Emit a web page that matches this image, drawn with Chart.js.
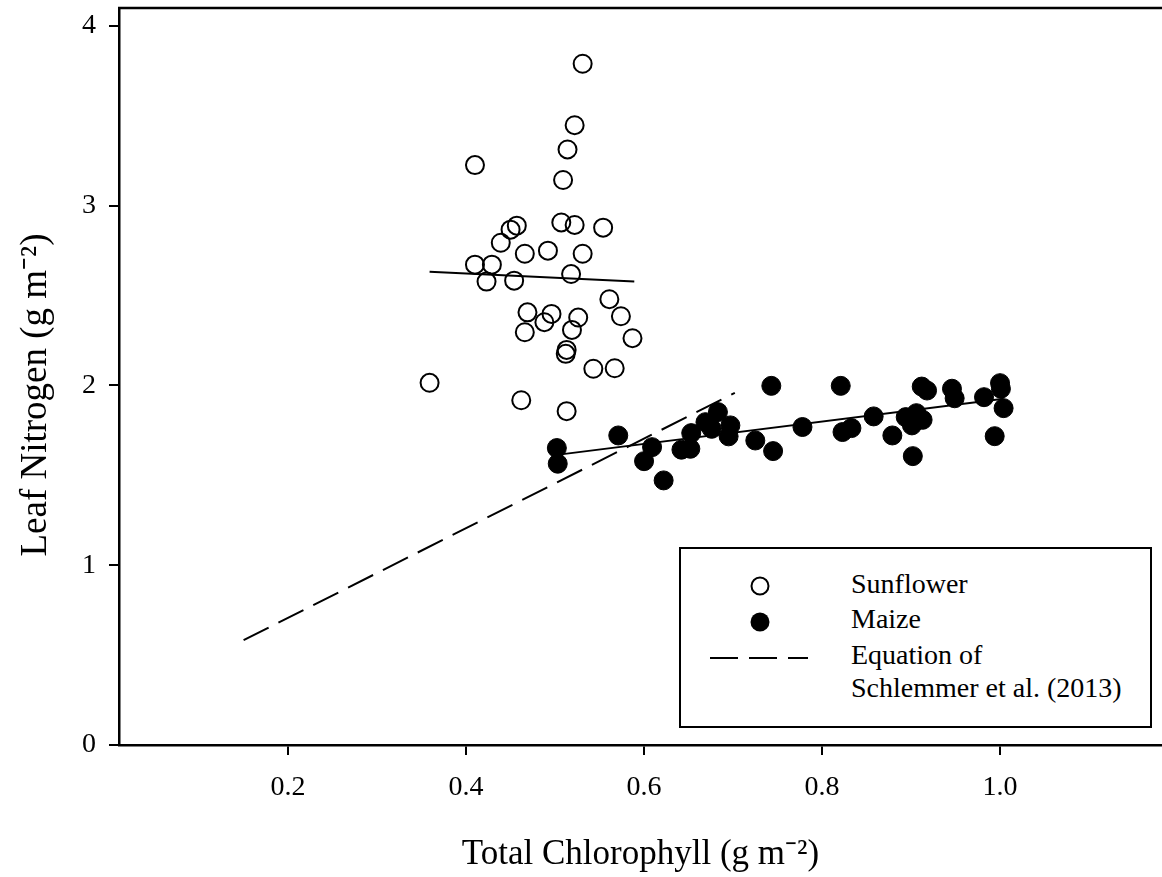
<!DOCTYPE html>
<html>
<head>
<meta charset="utf-8">
<script src="https://cdn.jsdelivr.net/npm/chart.js@4.4.1/dist/chart.umd.min.js"></script>
<style>
  html, body { margin: 0; padding: 0; background: #fff; }
  #wrap { position: relative; width: 1162px; height: 877px; overflow: hidden; }
  #legenda {
    position: absolute; left: 679px; top: 547px; width: 469px; height: 177px;
    border: 2px solid #000; background: #fff; color: #000;
    font-family: 'Liberation Serif', 'Times New Roman', serif; font-size: 28px;
  }
  #legenda .item { position: absolute; left: 170px; line-height: 28px; white-space: nowrap; }
  #legenda svg { position: absolute; left: 0; top: 0; }
</style>
</head>
<body>
<div id="wrap">
  <canvas id="grafico" width="1162" height="877"></canvas>
  <div id="legenda">
    <svg width="160" height="140">
      <circle cx="79" cy="37" r="8.5" fill="none" stroke="#000" stroke-width="2"/>
      <circle cx="79" cy="73" r="9.5" fill="#000"/>
      <line x1="29" y1="109" x2="127" y2="109" stroke="#000" stroke-width="2" stroke-dasharray="28 11"/>
    </svg>
    <div class="item" style="top:21px">Sunflower</div>
    <div class="item" style="top:56px">Maize</div>
    <div class="item" style="top:92px">Equation of</div>
    <div class="item" style="top:125px">Schlemmer et al. (2013)</div>
  </div>
</div>
<script>
// chlorophyll (g m-2) and leaf nitrogen (g m-2)
const sunflowerChl = [0.531, 0.522, 0.514, 0.509, 0.410, 0.457, 0.450, 0.507, 0.522, 0.554,
                      0.439, 0.466, 0.492, 0.531, 0.410, 0.429, 0.518, 0.423, 0.454, 0.561,
                      0.469, 0.496, 0.488, 0.526, 0.574, 0.466, 0.519, 0.587, 0.513, 0.512,
                      0.543, 0.567, 0.359, 0.462, 0.513];
const sunflowerN   = [3.79, 3.448, 3.313, 3.143, 3.226, 2.889, 2.867, 2.907, 2.893, 2.878,
                      2.794, 2.733, 2.75, 2.733, 2.672, 2.672, 2.62, 2.578, 2.583, 2.48,
                      2.407, 2.398, 2.352, 2.378, 2.385, 2.296, 2.309, 2.263, 2.198, 2.176,
                      2.093, 2.096, 2.015, 1.918, 1.857];

const maizeChl = [0.502, 0.503, 0.571, 0.609, 0.600, 0.622, 0.642, 0.652, 0.653, 0.669,
                  0.683, 0.676, 0.697, 0.695, 0.725, 0.743, 0.745, 0.778, 0.821, 0.823,
                  0.833, 0.858, 0.879, 0.894, 0.901, 0.906, 0.913, 0.902, 0.912, 0.918,
                  0.946, 0.949, 0.982, 1.000, 1.001, 1.004, 0.994];
const maizeN   = [1.652, 1.565, 1.722, 1.657, 1.579, 1.472, 1.643, 1.648, 1.735, 1.796,
                  1.852, 1.759, 1.778, 1.717, 1.694, 1.998, 1.635, 1.769, 1.998, 1.741,
                  1.763, 1.828, 1.722, 1.824, 1.778, 1.846, 1.809, 1.607, 1.994, 1.972,
                  1.982, 1.929, 1.935, 2.013, 1.982, 1.874, 1.718];

// fitted lines (end points)
const sunflowerFitX = [0.359, 0.589];
const sunflowerFitY = [2.633, 2.579];
const maizeFitX = [0.502, 1.004];
const maizeFitY = [1.614, 1.926];
const schlemmerX = [0.15, 0.702];
const schlemmerY = [0.583, 1.959];

const xTicks = [0.2, 0.4, 0.6, 0.8, 1.0];
const yTicks = [0, 1, 2, 3, 4];

const pares = (xs, ys) => xs.map((x, i) => ({ x: x, y: ys[i] }));
const serif = "'Liberation Serif', 'Times New Roman', serif";

// top frame line
const bordaTopo = {
    id: 'bordaTopo',
    afterDraw(chart) {
        const { ctx, chartArea } = chart;
        ctx.save();
        ctx.strokeStyle = '#000';
        ctx.lineWidth = 2.5;
        ctx.beginPath();
        ctx.moveTo(chartArea.left - 1, chartArea.top);
        ctx.lineTo(chartArea.right, chartArea.top);
        ctx.stroke();
        ctx.restore();
    }
};

const ctx = document.getElementById('grafico').getContext('2d');
const grafico = new Chart(ctx, {
    type: 'scatter',
    data: {
        datasets: [{
            label: 'Sunflower',
            data: pares(sunflowerChl, sunflowerN),
            pointRadius: 9,
            pointBorderWidth: 2,
            borderColor: '#000',
            backgroundColor: 'rgba(0,0,0,0)'
        },
        {
            label: 'Maize',
            data: pares(maizeChl, maizeN),
            pointRadius: 9.5,
            pointBorderWidth: 1,
            borderColor: '#000',
            backgroundColor: '#000'
        },
        {
            label: 'Sunflower fit',
            data: pares(sunflowerFitX, sunflowerFitY),
            showLine: true,
            pointRadius: 0,
            borderWidth: 2,
            borderColor: '#000'
        },
        {
            label: 'Maize fit',
            data: pares(maizeFitX, maizeFitY),
            showLine: true,
            pointRadius: 0,
            borderWidth: 2,
            borderColor: '#000'
        },
        {
            label: 'Equation of Schlemmer et al. (2013)',
            data: pares(schlemmerX, schlemmerY),
            showLine: true,
            pointRadius: 0,
            borderWidth: 2,
            borderColor: '#000',
            borderDash: [28, 11]
        }]
    },
    plugins: [bordaTopo],
    options: {
        responsive: false,
        animation: false,
        devicePixelRatio: 1,
        layout: { autoPadding: false, padding: { top: 8, right: 0, left: 0, bottom: 0 } },
        plugins: {
            legend: { display: false },
            tooltip: { enabled: false }
        },
        scales: {
            x: {
                type: 'linear',
                min: 0.01,
                max: 1.182,
                afterBuildTicks: (scale) => { scale.ticks = xTicks.map(v => ({ value: v })); },
                afterFit: (scale) => {
                    scale.height = 132;
                    scale.paddingLeft = 0;
                    scale.paddingRight = 0;
                },
                ticks: {
                    includeBounds: false,
                    padding: 16,
                    color: '#000',
                    font: { family: serif, size: 28 },
                    callback: (v) => v.toFixed(1)
                },
                grid: { drawOnChartArea: false, tickLength: 10, color: '#000', lineWidth: 2 },
                border: { display: true, color: '#000', width: 2.5 },
                title: {
                    display: true,
                    text: 'Total Chlorophyll (g m⁻²)',
                    color: '#000',
                    font: { family: serif, size: 35 },
                    padding: { top: 0, bottom: 1 }
                }
            },
            y: {
                min: 0,
                max: 4.1,
                afterBuildTicks: (scale) => { scale.ticks = yTicks.map(v => ({ value: v })); },
                afterFit: (scale) => {
                    scale.width = 119;
                    scale.paddingTop = 0;
                    scale.paddingBottom = 0;
                },
                ticks: {
                    includeBounds: false,
                    padding: 13,
                    color: '#000',
                    font: { family: serif, size: 28 }
                },
                grid: { drawOnChartArea: false, tickLength: 10, color: '#000', lineWidth: 2 },
                border: { display: true, color: '#000', width: 2.5 },
                title: {
                    display: true,
                    // trailing spaces nudge the title a little lower, as in the figure
                    text: 'Leaf Nitrogen (g m⁻²)\u00a0\u00a0\u00a0\u00a0',
                    color: '#000',
                    font: { family: serif, size: 37 },
                    padding: { top: 14, bottom: 0 }
                }
            }
        }
    }
});
</script>
</body>
</html>
